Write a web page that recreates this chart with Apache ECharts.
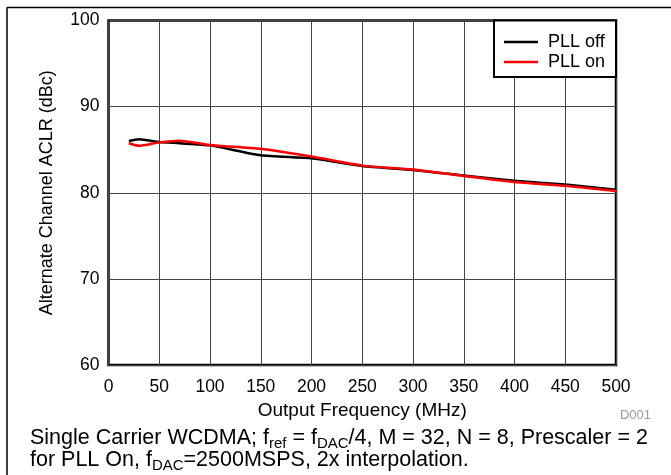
<!DOCTYPE html>
<html>
<head>
<meta charset="utf-8">
<script src="https://cdn.jsdelivr.net/npm/echarts@6/dist/echarts.min.js"></script>
<style>
html,body{margin:0;padding:0;background:#fff;}
#c{width:671px;height:475px;}
</style>
</head>
<body>
<div id="c"></div>
<script>
const FONT = "'Liberation Sans', Arial, sans-serif";
const freqOff = [20, 30, 50, 70, 100, 150, 200, 250, 300, 350, 400, 450, 500];
const pllOff  = [86.0, 86.2, 85.9, 85.75, 85.5, 84.35, 84.0, 83.1, 82.65, 82.0, 81.4, 80.95, 80.35];
const freqOn  = [20, 30, 50, 70, 100, 150, 200, 250, 300, 350, 400, 450, 500];
const pllOn   = [85.75, 85.45, 85.85, 86.05, 85.55, 85.1, 84.2, 83.15, 82.7, 81.95, 81.25, 80.8, 80.2];
const seriesNames = ['PLL off', 'PLL on'];
const xTicks = [0, 500, 50];
const yTicks = [60, 100, 10];

const chart = echarts.init(document.getElementById('c'), null, {renderer: 'canvas'});
const zip = (a, b) => a.map((v, i) => [v, b[i]]);
chart.setOption({
  animation: false,
  backgroundColor: '#fff',
  textStyle: {fontFamily: FONT},
  grid: {left: 108.5, top: 20.5, right: 55, bottom: 110, show: true, borderColor: '#000', borderWidth: 2.5, containLabel: false},
  xAxis: {
    type: 'value', min: xTicks[0], max: xTicks[1], interval: xTicks[2],
    name: 'Output Frequency (MHz)', nameLocation: 'middle', nameGap: 32,
    nameTextStyle: {fontSize: 19, color: '#000', fontFamily: FONT},
    axisLine: {show: false}, axisTick: {show: false},
    axisLabel: {fontSize: 17.5, color: '#000', margin: 13, fontFamily: FONT},
    splitLine: {show: true, lineStyle: {color: '#444', width: 1}}
  },
  yAxis: {
    type: 'value', min: yTicks[0], max: yTicks[1], interval: yTicks[2],
    name: 'Alternate Channel ACLR (dBc)', nameLocation: 'middle', nameGap: 52,
    nameTextStyle: {fontSize: 18, color: '#000', fontFamily: FONT},
    axisLine: {show: false}, axisTick: {show: false},
    axisLabel: {fontSize: 17.5, color: '#000', margin: 9, fontFamily: FONT},
    splitLine: {show: true, lineStyle: {color: '#444', width: 1}}
  },
  legend: {
    left: 494, top: 20.5, orient: 'vertical', z: 10,
    padding: [12.5, 10, 6, 10], itemGap: 2, itemWidth: 34, itemHeight: 2.5,
    icon: 'rect',
    textStyle: {fontSize: 18, color: '#000', lineHeight: 18, padding: [0, 0, 0, 5], fontFamily: FONT},
    data: seriesNames
  },
  series: [
    {name: seriesNames[0], type: 'line', data: zip(freqOff, pllOff), showSymbol: false, symbol: 'none', smooth: 0.2,
     lineStyle: {color: '#000', width: 2.5}, itemStyle: {color: '#000'}, z: 2},
    {name: seriesNames[1], type: 'line', data: zip(freqOn, pllOn), showSymbol: false, symbol: 'none', smooth: 0.2,
     lineStyle: {color: '#ff0000', width: 2.5}, itemStyle: {color: '#ff0000'}, z: 3}
  ],
  graphic: [
    {type: 'rect', z: 5, shape: {x: 494, y: 20.5, width: 122, height: 56.5}, style: {fill: '#fff', stroke: '#000', lineWidth: 2}},
    {type: 'line', z: 1, shape: {x1: 7, y1: 7.5, x2: 671, y2: 7.5}, style: {stroke: '#000', lineWidth: 1.5}},
    {type: 'line', z: 1, shape: {x1: 7, y1: 7.5, x2: 7, y2: 475}, style: {stroke: '#000', lineWidth: 1.5}},
    {type: 'text', z: 6, x: 651, y: 415, style: {text: 'D001', fill: '#999', font: '13px ' + FONT, textAlign: 'right', textVerticalAlign: 'middle'}},
    {type: 'text', z: 6, x: 30, y: 425, style: {
      text: 'Single Carrier WCDMA; f{s|ref} = f{s|DAC}/4, M = 32, N = 8, Prescaler = 2',
      fill: '#000', fontSize: 21.5, fontFamily: FONT, lineHeight: 26,
      rich: {s: {fontSize: 15, fontFamily: FONT, fill: '#000', verticalAlign: 'bottom', lineHeight: 15}}
    }},
    {type: 'text', z: 6, x: 30, y: 447, style: {
      text: 'for PLL On, f{s|DAC}=2500MSPS, 2x interpolation.',
      fill: '#000', fontSize: 21.5, fontFamily: FONT, lineHeight: 26,
      rich: {s: {fontSize: 15, fontFamily: FONT, fill: '#000', verticalAlign: 'bottom', lineHeight: 15}}
    }}
  ]
});
</script>
</body>
</html>
